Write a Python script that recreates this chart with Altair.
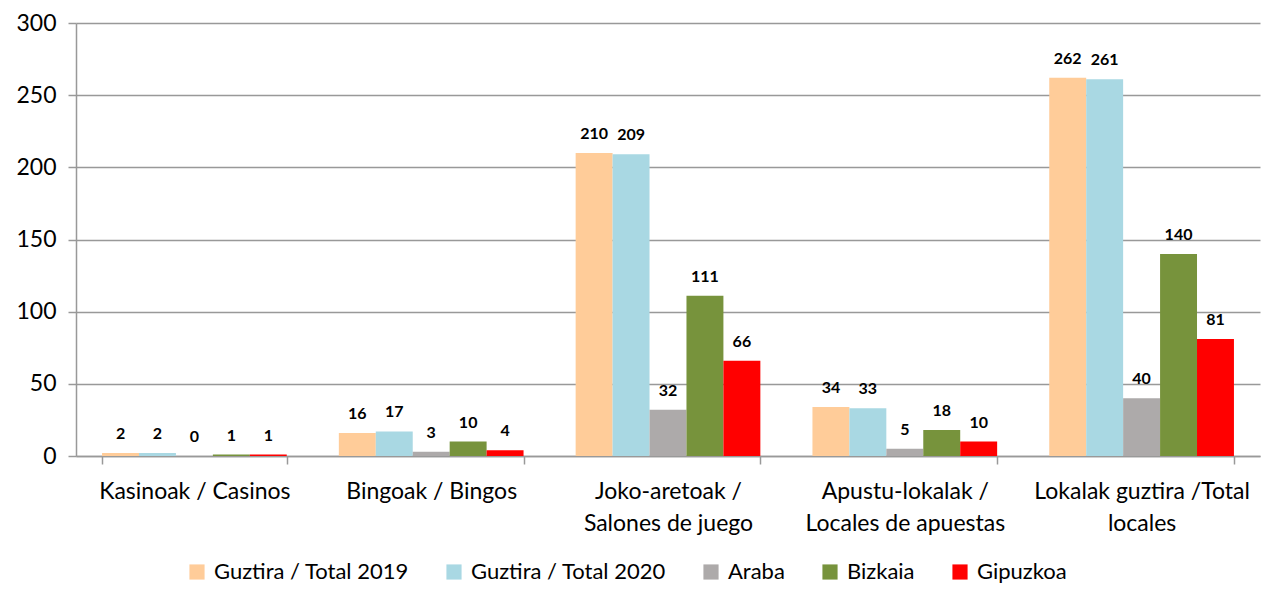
import altair as alt
import pandas as pd

categories = ["Kasinoak  / Casinos", "Bingoak / Bingos", "Joko-aretoak /|Salones  de juego",
              "Apustu-lokalak /|Locales de apuestas", "Lokalak guztira /Total|locales"]
series = ["Guztira / Total 2019", "Guztira / Total 2020", "Araba", "Bizkaia", "Gipuzkoa"]
total_2019 = [2, 16, 210, 34, 262]
total_2020 = [2, 17, 209, 33, 261]
araba = [0, 3, 32, 5, 40]
bizkaia = [1, 10, 111, 18, 140]
gipuzkoa = [1, 4, 66, 10, 81]
colors = ["#FFCC99", "#A9D8E3", "#ADAAAA", "#77933C", "#FF0000"]

rows = []
for s, vals in zip(series, [total_2019, total_2020, araba, bizkaia, gipuzkoa]):
    for c, v in zip(categories, vals):
        rows.append({"cat": c, "series": s, "value": v})
df = pd.DataFrame(rows)

FONT = "Lato"

x = alt.X("cat:N", sort=categories, title=None,
          scale=alt.Scale(paddingInner=0.22, paddingOuter=0.11),
          axis=alt.Axis(labelExpr="split(datum.label, '|')", labelAngle=0, labelFontSize=23,
                        labelFont=FONT, labelColor="#000", labelLineHeight=32, labelPadding=16,
                        labelOverlap=False,
                        tickBand="extent", tickSize=8, tickColor="#999", domainColor="#999",
                        domainWidth=1.5, tickWidth=1.5, grid=False, labelLimit=300))
xo = alt.XOffset("series:N", sort=series)
y = alt.Y("value:Q", title=None,
          scale=alt.Scale(domain=[0, 300], nice=False),
          axis=alt.Axis(values=[0, 50, 100, 150, 200, 250, 300], labelFontSize=23, labelFont=FONT,
                        labelColor="#000", gridColor="#999", gridWidth=1.5, domainColor="#999",
                        domainWidth=1.5, tickColor="#999", tickWidth=1.5, tickSize=8, labelPadding=12))

bars = alt.Chart(df).mark_bar().encode(
    x=x, xOffset=xo, y=y,
    color=alt.Color("series:N", sort=series, title=None,
                    scale=alt.Scale(domain=series, range=colors),
                    legend=alt.Legend(orient="none", direction="horizontal", legendX=110, legendY=538,
                                      symbolType="square", symbolSize=230, symbolStrokeWidth=0,
                                      labelFontSize=22, labelFont=FONT, labelColor="#000",
                                      columnPadding=34, labelOffset=6, labelLimit=400)),
)
labels = alt.Chart(df).mark_text(fontWeight="bold", fontSize=16, font=FONT, baseline="bottom",
                                 dy=-11, color="#000").encode(
    x=x, xOffset=xo, y=y, text="value:Q")

chart = (bars + labels).properties(
    width=1184, height=433,
    autosize=alt.AutoSizeParams(type="none"),
    padding={"left": 68, "top": 15, "right": 9, "bottom": 128},
).configure_view(stroke=None)

chart.save("out.html", embed_options={"renderer": "svg", "actions": False})
